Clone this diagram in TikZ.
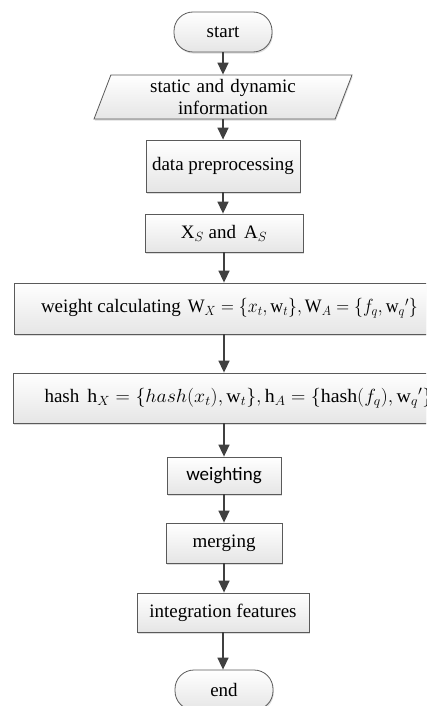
\documentclass[tikz,border=0pt]{standalone}
\usepackage{fix-cm}
\usepackage{graphicx}
\usepackage{fontspec}
\setmainfont{Liberation Serif}
\newfontfamily\calfont{Carlito}
\usetikzlibrary{arrows.meta,shapes.geometric,shadows}
\definecolor{edgegray}{HTML}{5A5A5A}
\definecolor{arrowgray}{HTML}{404040}
\tikzset{
  x=1pt, y=-1pt,
  every node/.style={font=\fontsize{19}{22}\selectfont},
  procbox/.style={draw=edgegray, line width=0.8pt, top color=white, bottom color=black!10,
    drop shadow={shadow xshift=0.8pt, shadow yshift=-1.6pt, fill=black!30, opacity=0.45},
    inner sep=0pt, align=center},
  terminal/.style={procbox, rounded corners=19pt},
  wide/.style={procbox, minimum width=426pt},
  flow/.style={draw=arrowgray, line width=1.6pt, -{Triangle[length=12pt,width=11pt]}},
}
\begin{document}
\begin{tikzpicture}
\useasboundingbox (0,0) rectangle (426,706);
\clip (0,0) rectangle (426,706);

\node[terminal, minimum width=98pt, minimum height=40pt] (start) at (223,32) {start};

\node[procbox, trapezium, trapezium left angle=64.5, trapezium right angle=115.5,
      trapezium stretches body, minimum width=258pt, minimum height=44pt,
      text width=200pt] (info) at (223,97) {static and dynamic\\information};

\node[procbox, minimum width=154pt, minimum height=52pt] (prep) at (223,166) {data preprocessing};

\node[procbox, minimum width=158pt, minimum height=38pt] (xs) at (224,233)
  {X$_{S}$ and\, A$_{S}$};

% long formula lines: the text starts near the left edge and may run past the right one
\node[wide, minimum height=51pt] (wcalc) at (227,308.5)
  {\makebox[372pt][l]{weight calculating\hspace{7pt}\resizebox{230pt}{\height}{$\mathrm{W}_X=\{x_t,\mathrm{w}_t\},\mathrm{W}_A=\{f_q,\mathrm{w}_q{}'\}$}}};

\node[wide, minimum height=50pt] (hash) at (226.5,398)
  {\makebox[364pt][l]{hash\hspace{8pt}\resizebox{345pt}{\height}{$\mathrm{h}_X=\{hash(x_t),\mathrm{w}_t\},\mathrm{h}_A=\{\mathrm{hash}(f_q),\mathrm{w}_q{}'\}$}}};

\node[procbox, minimum width=114pt, minimum height=37pt, font=\calfont\fontsize{19}{22}\selectfont]
  (wgt) at (224,475.5) {weighting};

\node[procbox, minimum width=116pt, minimum height=40pt] (merge) at (224,543) {merging};

\node[procbox, minimum width=172pt, minimum height=39pt] (integ) at (223,612.5) {integration features};

\node[terminal, minimum width=98pt, minimum height=40pt] (end) at (224,690) {end};

\draw[flow] (start.south) -- (start.south |- info.north);
\draw[flow] (info.south) -- (info.south |- prep.north);
\draw[flow] (prep.south) -- (prep.south |- xs.north);
\draw[flow] (xs.south) -- (xs.south |- wcalc.north);
\draw[flow] (xs.south |- wcalc.south) -- (xs.south |- hash.north);
\draw[flow] (wgt.north |- hash.south) -- (wgt.north);
\draw[flow] (wgt.south) -- (wgt.south |- merge.north);
\draw[flow] (merge.south) -- (merge.south |- integ.north);
\draw[flow] (integ.south) -- (integ.south |- end.north);
\end{tikzpicture}
\end{document}
